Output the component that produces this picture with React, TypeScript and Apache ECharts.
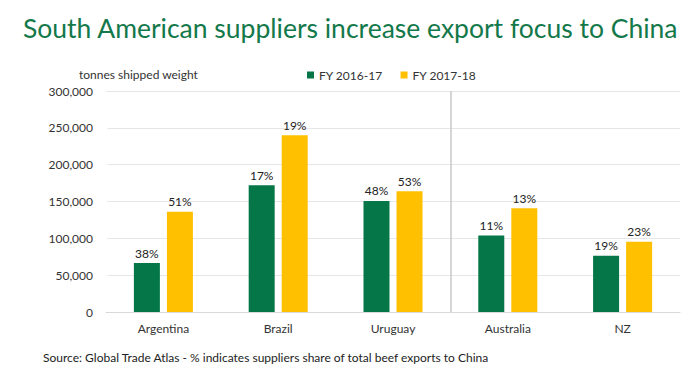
import React, { useEffect, useRef } from "react";
import * as echarts from "echarts";

const categories = ["Argentina", "Brazil", "Uruguay", "Australia", "NZ"];
const fy1617 = [66500, 172000, 150700, 104000, 76400];
const fy1718 = [136000, 240000, 163800, 140700, 95400];
const share1617 = ["38%", "17%", "48%", "11%", "19%"];
const share1718 = ["51%", "19%", "53%", "13%", "23%"];
const seriesNames = ["FY 2016-17", "FY 2017-18"];
const separatorAt = 3; // boundary between South American and other suppliers
const yMax = 300000;

const FONT = "Lato, 'Open Sans', sans-serif";
const GREEN = "#047647";
const YELLOW = "#FFC000";

export default function App() {
  const ref = useRef<HTMLDivElement>(null);
  useEffect(() => {
    if (!ref.current) return;
    const chart = echarts.init(ref.current, null, { renderer: "svg" });
    chart.setOption({
      animation: false,
      textStyle: { fontFamily: FONT },
      title: [
        {
          text: "South American suppliers increase export focus to China",
          left: 18,
          top: 9,
          textStyle: { fontFamily: FONT, fontSize: 26.5, fontWeight: "normal", color: "#13784a" },
        },
        {
          text: "tonnes shipped weight",
          left: 74,
          top: 63,
          textStyle: { fontFamily: FONT, fontSize: 12, fontWeight: "normal", color: "#333" },
        },
        {
          text: "Source: Global Trade Atlas - % indicates suppliers share of total beef exports to China",
          left: 38,
          top: 346,
          textStyle: { fontFamily: FONT, fontSize: 12, fontWeight: "normal", color: "#222" },
        },
      ],
      legend: {
        data: seriesNames,
        left: 302,
        top: 64,
        itemWidth: 7,
        itemHeight: 7,
        itemGap: 18,
        icon: "rect",
        textStyle: { fontFamily: FONT, fontSize: 12, color: "#333" },
      },
      grid: { left: 106, right: 20, top: 91, bottom: 60, show: false, borderWidth: 0 },
      xAxis: [
        {
          type: "category",
          data: categories,
          axisLine: { show: true, lineStyle: { color: "#d9d9d9" } },
          axisTick: { show: false },
          axisLabel: { fontFamily: FONT, fontSize: 12, color: "#333", margin: 10 },
          splitLine: { show: false },
          splitArea: { show: false },
        },
        {
          type: "value",
          min: 0,
          max: categories.length,
          show: false,
          axisLine: { show: false },
          axisTick: { show: false },
          axisLabel: { show: false },
          splitLine: { show: false },
        },
      ],
      yAxis: {
        type: "value",
        min: 0,
        max: yMax,
        interval: 50000,
        axisLine: { show: false },
        axisTick: { show: false },
        axisLabel: {
          fontFamily: FONT,
          fontSize: 12,
          color: "#333",
          margin: 13,
          formatter: (v: number) => v.toLocaleString("en-US"),
        },
        splitLine: { show: true, lineStyle: { color: "#e6e6e6" } },
      },
      series: [
        {
          name: seriesNames[0],
          type: "bar",
          data: fy1617,
          barWidth: 26,
          barGap: "27%",
          itemStyle: { color: GREEN },
          label: {
            show: true,
            position: "top",
            distance: 4,
            fontFamily: FONT,
            fontSize: 12,
            color: "#222",
            formatter: (p: any) => share1617[p.dataIndex],
          },
        },
        {
          name: seriesNames[1],
          type: "bar",
          data: fy1718,
          barWidth: 26,
          barGap: "27%",
          itemStyle: { color: YELLOW },
          label: {
            show: true,
            position: "top",
            distance: 4,
            fontFamily: FONT,
            fontSize: 12,
            color: "#222",
            formatter: (p: any) => share1718[p.dataIndex],
          },
        },
        {
          name: "separator",
          type: "line",
          xAxisIndex: 1,
          data: [[separatorAt, 0]],
          symbol: "none",
          lineStyle: { opacity: 0 },
          silent: true,
          markLine: {
            silent: true,
            symbol: "none",
            label: { show: false },
            lineStyle: { color: "#c8c8c8", width: 1.5, type: "solid" },
            data: [[{ coord: [separatorAt, 0] }, { coord: [separatorAt, yMax] }]],
          },
        },
      ],
    });

    // mask the stray vertical edge line at the plot's left boundary
    const x0 = chart.convertToPixel({ xAxisIndex: 1 }, 0) as number;
    const yTop = chart.convertToPixel({ yAxisIndex: 0 }, yMax) as number;
    const yBot = chart.convertToPixel({ yAxisIndex: 0 }, 0) as number;
    if (isFinite(x0) && isFinite(yTop) && isFinite(yBot)) {
      chart.setOption({
        graphic: [
          {
            type: "rect",
            z: 100,
            silent: true,
            shape: { x: x0 - 1.5, y: yTop + 1, width: 3, height: yBot - yTop - 2 },
            style: { fill: "#ffffff" },
          },
        ],
      });
    }
    return () => chart.dispose();
  }, []);
  return <div ref={ref} style={{ width: 700, height: 372, margin: -8 }} />;
}
